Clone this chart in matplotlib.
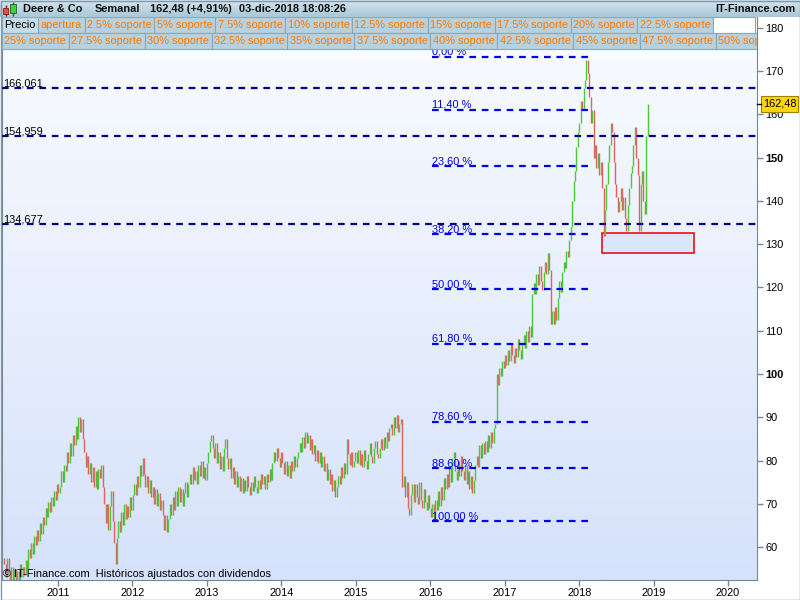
import matplotlib
matplotlib.use('Agg')
import matplotlib.pyplot as plt
import matplotlib.dates as mdates
from matplotlib.patches import Rectangle
from matplotlib.colors import LinearSegmentedColormap
from matplotlib.transforms import Affine2D, blended_transform_factory
import numpy as np
import pandas as pd

plt.rcParams['font.family'] = ['Liberation Sans', 'DejaVu Sans']

# weekly closes (Deere & Co, adjusted)
closes_2010 = [56, 53, 57.5, 54, 52, 55.5, 52.5, 55, 51.5, 54.5, 52, 56, 53, 55.5, 53.5,
               57, 55, 59.5, 57.5, 61, 58.5, 62.5, 60.5, 64, 61.5, 65.5, 63, 67,
               65, 69, 67, 70.5, 68, 71.5, 69.5, 73, 71, 74.5, 72.5]
closes_2011 = [74, 77.5, 75, 79, 77.5, 82, 79.5, 84, 81, 86, 83.5, 88, 85, 90, 86.5, 89.5, 85,
               82, 78.5, 81, 77, 79.5, 75, 78.5, 74, 77.5, 73.5, 78, 76, 79,
               74, 70, 65.5, 70, 64, 69.5, 73, 66, 61, 56, 62,
               66, 63.5, 68, 65, 70, 66.5, 69.5, 67, 71.5, 68.5, 72]
closes_2012 = [74.5, 72, 76.5, 74, 79, 76.5, 80.5, 77, 74, 76.5, 72.5, 75.5, 71.5, 74, 70,
               73.5, 69.5, 72.5, 68.5, 71,
               67.5, 64, 67.5, 63.5, 66.5,
               70, 67.5, 71.5, 68.5, 73, 69.5, 74, 70.5, 73.5, 69.5, 72.5, 75, 71.5, 74.5,
               77, 74.5, 78.5, 75.5, 77.5, 74.5, 79, 76.5, 80, 76, 78.5, 75.5, 79.5]
closes_2013 = [82, 84.5, 86, 83, 80.5, 84, 79.5, 82, 78, 81, 77.5,
               83, 85, 80.5, 78, 80.5, 76, 78.5, 74.5, 77.5, 74, 76.5,
               73, 76, 72.5, 75.5, 73, 76.5, 74, 72, 75, 73, 76.5, 74, 72.5, 75.5, 73.5, 77,
               74.5, 76.5, 73.5, 77, 75, 78, 75.5,
               79.5, 82, 80, 83, 80.5, 78.5, 82]
closes_2014 = [79.5, 77, 80, 76.5, 79, 76, 80, 77.5, 81, 78.5, 80.5, 82,
               84, 82, 85.5, 83, 86.5, 84, 86,
               82.5, 85, 81.5, 83.5, 80, 82.5, 79.5, 82, 78.5, 81,
               77.5, 79.5, 75.5, 78, 74.5, 77, 73, 75.5, 71.5, 74,
               76.5, 74.5, 78.5, 76, 79.5, 77, 85,
               81.5, 79, 82, 78.5, 80, 82]
closes_2015 = [79.5, 82.5, 79, 81.5, 78.5, 82.5, 80, 78,
               81.5, 84, 81, 79.5, 83, 84.5, 81.5, 80.5, 83, 85, 82.5,
               85.5, 83, 86.5, 84.5, 87.5,
               88.5, 86, 90, 87.5, 90.5, 86.5, 88.5,
               89.5, 74,
               76.5, 71.5, 75, 69, 67.5, 72, 74.5, 70.5,
               74.5, 71.5, 70, 75, 71, 69, 73.5, 70.5, 68.5, 72, 69]
closes_2016 = [67, 70, 66.5, 71, 68.5, 73, 69.5, 74, 71, 76, 73.5, 77, 74,
               78.5, 75, 80.5, 82, 77.5, 75.5, 80, 76.5, 81, 77.5,
               75.5, 79, 74.5, 77.5, 73.5, 76.5, 72.5, 75.5, 79,
               81, 78.5, 83.5, 80.5, 84,
               81.5, 84.5, 82, 86, 83, 86.5, 84, 87.5, 88.5,
               100, 97.5, 101.5, 99.5, 103, 101.5]
closes_2017 = [104.5, 102, 105.5, 103, 107, 104.5, 102.5,
               106, 104, 108, 105.5, 103.5, 107.5,
               109, 106, 110, 107.5, 111, 108.5,
               118.5,
               121, 118.5, 123, 120.5, 125, 121.5, 119.5, 123.5, 126, 123,
               128, 124,
               111.5,
               114.5, 111.5, 115.5, 112.5,
               117.5, 121.5, 119, 123.5,
               126, 124.5, 128.5, 127,
               131, 134,
               140, 144.5, 147,
               152.5, 156]
closes_2018 = [158, 163, 161, 166, 168, 172.5, 169.5, 164, 158, 161, 150, 153, 147.5, 151,
               146, 149, 143, 132, 138, 144, 149, 153, 158, 156, 149, 144, 141, 137.5, 140,
               143, 138, 141, 136, 133, 139, 143, 146.5, 148, 153, 157, 150, 146, 133, 144,
               147, 140, 137, 155, 162.48]
first_open = 57.5
last_date = '2018-12-03'

fib_high, fib_low = 173.3, 66.0
fib_pcts = [0.0, 11.4, 23.6, 38.2, 50.0, 61.8, 78.6, 88.6, 100.0]
fib_start, fib_end = '2016-01-08', '2018-02-14'
support_levels = [166.061, 154.959, 134.677]
zone_start, zone_end = '2018-04-23', '2019-07-20'
zone_low, zone_high = 128.0, 132.6

last_price = 162.48
header_parts = ['Deere & Co', 'Semanal', '162,48 (+4,91%)', '03-dic-2018 18:08:26']
row1 = ['Precio', 'apertura', '2.5% soporte', '5% soporte', '7.5% soporte', '10% soporte',
        '12.5% soporte', '15% soporte', '17.5% soporte', '20% soporte', '22.5% soporte']
row2 = ['25% soporte', '27.5% soporte', '30% soporte', '32.5% soporte', '35% soporte',
        '37.5% soporte', '40% soporte', '42.5% soporte', '45% soporte', '47.5% soporte',
        '50% soporte']
y_ticks = [60, 70, 80, 90, 100, 110, 120, 130, 140, 150, 160, 170, 180]

closes = (closes_2010 + closes_2011 + closes_2012 + closes_2013 + closes_2014
          + closes_2015 + closes_2016 + closes_2017 + closes_2018)
opens = [first_open] + closes[:-1]
dates = pd.date_range(end=last_date, periods=len(closes), freq='7D')

W, H = 800, 600
fig = plt.figure(figsize=(8, 6), dpi=100)
fig.patch.set_facecolor('white')
# pixel coords, y going down
pix = Affine2D().scale(1, -1).translate(0, H)

ax = fig.add_axes([2 / W, 20 / H, 755 / W, 563 / H])
bg = LinearSegmentedColormap.from_list('bg', ['#d6e2fb', '#fafcff'])
ax.imshow(np.linspace(0, 1, 256).reshape(-1, 1)[::-1], cmap=bg, aspect='auto',
          extent=[0, 1, 0, 1], transform=ax.transAxes, zorder=0)

x = mdates.date2num(dates)
c = np.array(closes)
o = np.array(opens)
cols = np.where(c >= o, '#4cc83c', '#e06262')
ax.vlines(x, np.minimum(o, c), np.maximum(o, c), colors=cols, lw=1.0, zorder=3)

# fibonacci retracement
fx = mdates.date2num(pd.to_datetime([fib_start, fib_end]))
for p in fib_pcts:
    lvl = fib_high - p / 100 * (fib_high - fib_low)
    ax.plot(fx, [lvl, lvl], color='#0000f0', lw=1.6, dashes=(3, 2.6), zorder=4)
    ax.text(fx[0], lvl + 0.45, f"{p:.2f}".replace('.', ',') + ' %', color='#0000f0',
            fontsize=7.9, va='baseline', ha='left', zorder=5)

# support lines
bt = blended_transform_factory(ax.transAxes, ax.transData)
for lvl in support_levels:
    ax.axhline(lvl, color='#00008c', lw=1.6, dashes=(3, 2.6), zorder=4)
    ax.text(0.002, lvl + 0.45, f"{lvl:.3f}".replace('.', ','), transform=bt,
            fontsize=7.9, va='baseline', ha='left', color='black', zorder=5)

# zone box
zx = mdates.date2num(pd.to_datetime([zone_start, zone_end]))
ax.add_patch(Rectangle((zx[0], zone_low), zx[1] - zx[0], zone_high - zone_low,
                       facecolor='#dbe5fb', edgecolor='#e8101a', lw=1.2, zorder=2))

ax.set_xlim(mdates.date2num(pd.Timestamp('2010-04-01')), mdates.date2num(pd.Timestamp('2020-05-22')))
ax.set_ylim(52.4, 182.5)
ax.xaxis.set_major_locator(mdates.YearLocator())
ax.xaxis.set_major_formatter(mdates.DateFormatter('%Y'))
ax.yaxis.tick_right()
ax.set_yticks(y_ticks)
ax.set_yticklabels([str(t) for t in y_ticks])
for lab in ax.get_yticklabels():
    if lab.get_text() in ('100', '150'):
        lab.set_fontweight('bold')
ax.tick_params(axis='both', direction='out', length=4, width=1, color='#70889a',
               labelsize=7.9, labelcolor='black')
ax.tick_params(axis='x', pad=2)
ax.tick_params(axis='y', pad=2)
for s in ('left', 'right', 'bottom'):
    ax.spines[s].set_color('#70889a')
ax.spines['top'].set_visible(False)

ax.text(3, 577, '\u00a9 IT-Finance.com  Hist\u00f3ricos ajustados con dividendos', transform=pix,
        fontsize=7.9, va='baseline', ha='left', zorder=6)

# legend rows of the study panel
fig.canvas.draw()
renderer = fig.canvas.get_renderer()


def draw_row(labels, y0, first_black=False):
    xpos = 2
    for i, lab in enumerate(labels):
        black = first_black and i == 0
        t = ax.text(xpos + 2.5, y0 + 8.5, lab, transform=pix, fontsize=7.9, va='center',
                    ha='left', color='black' if black else '#ff7a00', zorder=8, clip_on=True)
        w = t.get_window_extent(renderer).width + 5
        ax.add_patch(Rectangle((xpos, y0), w, 16, transform=pix,
                               facecolor='#c6dce8' if black else '#b7d1df',
                               edgecolor='#8aa8b8', lw=0.8, zorder=7, clip_on=True))
        xpos += w
    return xpos


end1 = draw_row(row1, 17, first_black=True)
ax.add_patch(Rectangle((end1, 17), 755 - end1, 16, transform=pix, facecolor='white',
                       edgecolor='#8aa8b8', lw=0.8, zorder=7))
draw_row(row2, 33)

# header bar
hax = fig.add_axes([0, 1 - 17 / H, 1, 17 / H])
hg = LinearSegmentedColormap.from_list('hg', ['#a9c8d8', '#d3e5ee'])
hax.imshow(np.linspace(0, 1, 32).reshape(-1, 1)[::-1], cmap=hg, aspect='auto', extent=[0, W, 17, 0])
hax.set_xlim(0, W)
hax.set_ylim(17, 0)
hax.axis('off')
hax.add_patch(Rectangle((5.5, 5), 0.8, 11, color='#802020'))
hax.add_patch(Rectangle((3, 8), 5, 6, facecolor='#e05050', edgecolor='#802020', lw=0.6))
hax.add_patch(Rectangle((12.6, 1.5), 0.8, 14, color='#206020'))
hax.add_patch(Rectangle((10, 4), 6, 9, facecolor='#40d040', edgecolor='#206020', lw=0.6))
for px_, txt in zip([23, 95, 150, 239], header_parts):
    hax.text(px_, 9, txt, fontsize=7.9, fontweight='bold', va='center', ha='left', color='#101010')
hax.text(795, 9, 'IT-Finance.com', fontsize=7.9, fontweight='bold', va='center', ha='right',
         color='#101010')

# last price tag
tag_y = ax.transData.transform((0, last_price))[1]
fig.add_artist(Rectangle((761, H - tag_y - 8), 37, 16, transform=pix, facecolor='#ffd700',
                         edgecolor='#a08000', lw=0.8))
fig.add_artist(plt.Line2D([757, 761], [H - tag_y, H - tag_y], transform=pix, color='black', lw=1))
fig.text(779.5, H - tag_y, '162,48', transform=pix, fontsize=7.9, ha='center', va='center')

# outer frame
fig.add_artist(Rectangle((0.5, 0.5), W - 1, H - 1, transform=pix, fill=False,
                         edgecolor='#8098a8', lw=1))

fig.savefig('out.png', dpi=100)
